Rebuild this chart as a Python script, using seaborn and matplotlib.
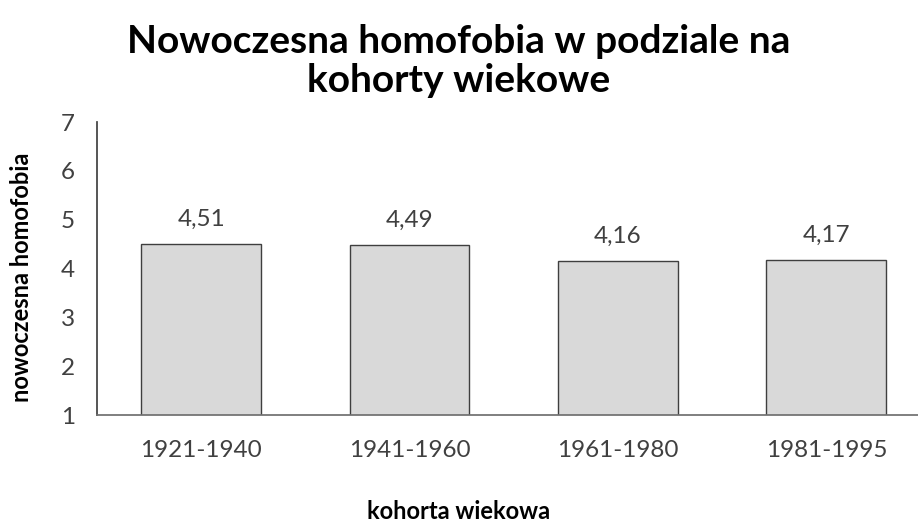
import matplotlib
matplotlib.use("Agg")
import matplotlib.pyplot as plt
import seaborn as sns
import pandas as pd

# Dane
kohorty = ["1921-1940", "1941-1960", "1961-1980", "1981-1995"]
homofobia = [4.51, 4.49, 4.16, 4.17]

sns.set_theme(style="white")
plt.rcParams['font.family'] = ['Lato', 'DejaVu Sans']

df = pd.DataFrame({"kohorta": kohorty, "wartosc": homofobia})

fig = plt.figure(figsize=(9.18, 5.26), dpi=100)
ax = fig.add_axes([0.1057, 0.211, 0.8943, 0.557])

sns.barplot(data=df, x="kohorta", y="wartosc", color="#D9D9D9",
            edgecolor="#3F3F3F", linewidth=1.0, width=0.575,
            saturation=1, ax=ax)

ax.set_ylim(1, 7)
ax.set_xlim(-0.5, 3.44)
ax.set_yticks(range(1, 8))

for i, v in enumerate(homofobia):
    ax.annotate(f"{v:.2f}".replace(".", ","), (i, v), xytext=(0, 10),
                textcoords="offset points", ha="center", va="bottom",
                fontsize=17.5, color="#404040")

for s in ["top", "right"]:
    ax.spines[s].set_visible(False)
ax.spines["left"].set_color("#404040")
ax.spines["bottom"].set_color("#707070")
ax.tick_params(axis="both", labelsize=17.5, colors="#404040", length=0)
ax.tick_params(axis="x", pad=18)
ax.tick_params(axis="y", pad=16)

ax.set_xlabel("")
ax.set_ylabel("nowoczesna homofobia", fontsize=17, fontweight="bold",
              color="black", va="center")
ax.yaxis.set_label_coords(-0.092, 0.47)

fig.text(0.5, 0.028, "kohorta wiekowa", ha="center", va="center",
         fontsize=17, fontweight="bold", color="black")
fig.text(0.5, 0.884, "Nowoczesna homofobia w podziale na\nkohorty wiekowe",
         ha="center", va="center", fontsize=28, fontweight="bold",
         color="black", linespacing=1.15)

fig.savefig("out.png", dpi=100)
